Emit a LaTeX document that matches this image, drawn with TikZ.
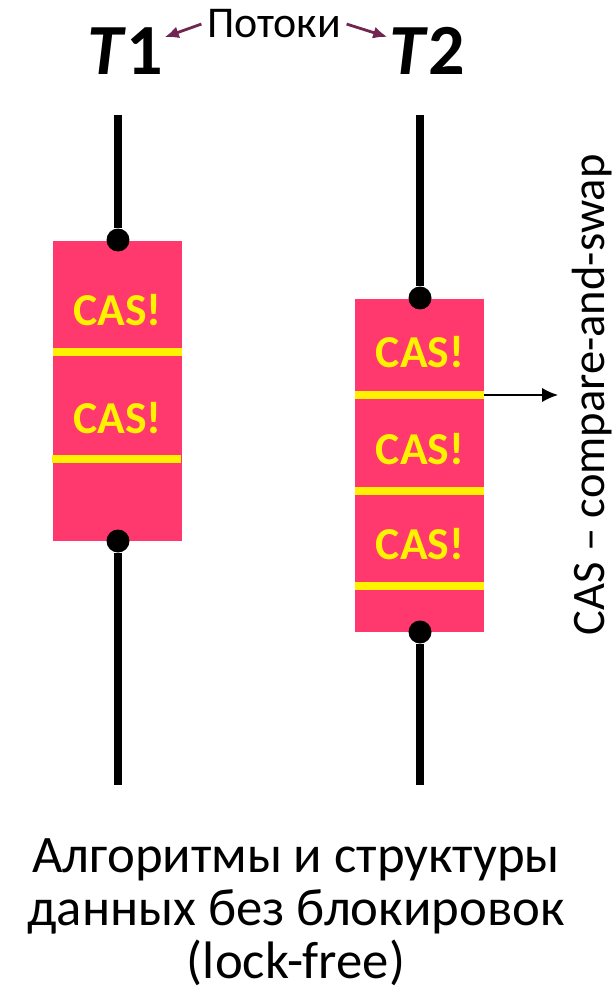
\documentclass[tikz,border=0pt]{standalone}
\usepackage{fontspec}
\setmainfont{Carlito}
\usetikzlibrary{positioning,arrows.meta}

\definecolor{casred}{RGB}{255,56,110}
\definecolor{threadarrow}{RGB}{112,38,80}

\begin{document}
\begin{tikzpicture}[x=0.02cm,y=-0.02cm,
    thread/.style={line width=4pt},
    joint/.style={circle, fill=black, inner sep=0pt, minimum size=0.46cm},
    casbox/.style={fill=casred, inner sep=0pt, minimum width=2.58cm},
    casline/.style={yellow, line width=4pt},
    cas/.style={font=\fontsize{26}{30}\selectfont\bfseries, text=yellow}]
  \useasboundingbox (0,0) rectangle (613,1000);

  % Thread names
  \node[font=\fontsize{41}{44}\selectfont\bfseries, anchor=base, inner sep=1pt] (T1) at (125,75) {\textit{T}1};
  \node[font=\fontsize{41}{44}\selectfont\bfseries, anchor=base, inner sep=1pt] (T2) at (427,75) {\textit{T}2};
  \node[font=\fontsize{25}{28}\selectfont, anchor=base, inner sep=3pt] (threads) at (274,38) {Потоки};
  \draw[-{Latex[length=8pt,width=7pt]}, line width=1.6pt, threadarrow] (threads.west) -- (T1.20);
  \draw[-{Latex[length=8pt,width=7pt]}, line width=1.6pt, threadarrow] (threads.east) -- (T2.160);

  % Left thread - two CAS steps
  \node[casbox, minimum height=6cm] (box1) at (117.5,391) {};
  \draw[casline] (53,352) -- (182,352);
  \draw[casline] (52,459) -- (181,459);
  \node[cas] (cas11) at (117.5,310) {CAS!};
  \node[cas] (cas12) at (117.5,418) {CAS!};
  \node[joint] (t1in) at (118,240) {};
  \node[joint] (t1out) at (118,541) {};
  \coordinate (t1start) at (118,115);
  \coordinate (t1end) at (118,785);
  \draw[thread] (t1start) -- (t1in);
  \draw[thread] (t1out) -- (t1end);

  % Right thread - three CAS steps
  \node[casbox, minimum height=6.66cm] (box2) at (419.5,465.5) {};
  \draw[casline] (355,395) -- coordinate[pos=1] (casmark) (484,395);
  \draw[casline] (355,491) -- (484,491);
  \draw[casline] (355,586) -- (484,586);
  \node[cas] (cas21) at (420,352) {CAS!};
  \node[cas] (cas22) at (420,449) {CAS!};
  \node[cas] (cas23) at (420,544) {CAS!};
  \node[joint] (t2in) at (420,298) {};
  \node[joint] (t2out) at (420,632) {};
  \coordinate (t2start) at (420,115);
  \coordinate (t2end) at (420,785);
  \draw[thread] (t2start) -- (t2in);
  \draw[thread] (t2out) -- (t2end);

  % Explanation of CAS
  \node[font=\fontsize{26.5}{30}\selectfont, rotate=90, anchor=base, inner sep=0pt] (casnote) at (604,395) {CAS – compare-and-swap};
  \coordinate (casarrow) at (558,395);
  \draw[-{Latex[length=9pt,width=8pt]}, line width=0.8pt] (casmark) -- (casarrow);

  % Caption
  \node[font=\fontsize{30}{30}\selectfont, align=center, anchor=base] (caption) at (296,978)
    {Алгоритмы и структуры\\данных без блокировок\\(lock-free)};
\end{tikzpicture}
\end{document}
